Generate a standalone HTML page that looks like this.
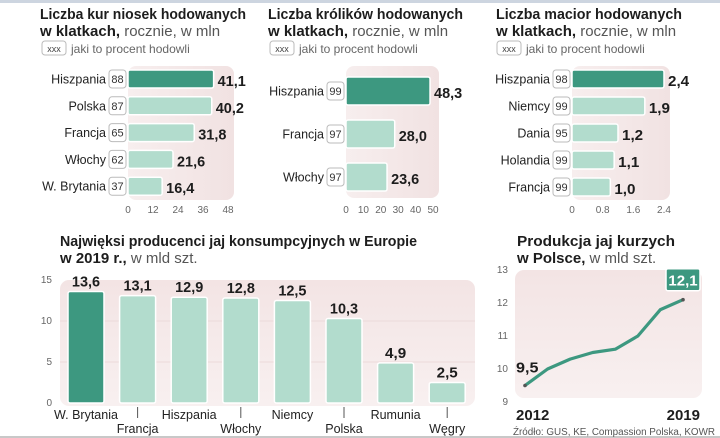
<!DOCTYPE html>
<html><head><meta charset="utf-8">
<style>
html,body{margin:0;padding:0;background:#fff;}
svg{display:block;font-family:"Liberation Sans",sans-serif;}
.t{font-weight:bold;fill:#1d1d1d;}
.tl{fill:#555;font-weight:normal;}
.tick{fill:#666;font-size:10px;}
.lbl{fill:#222;font-size:12.5px;}
.val{fill:#1d1d1d;font-weight:bold;font-size:15px;}
.pct{fill:#333;font-size:11px;}
</style></head>
<body>
<svg id="c" width="720" height="438" viewBox="0 0 720 438" xmlns="http://www.w3.org/2000/svg">
<defs>
<linearGradient id="pg" x1="0" x2="1" y1="0" y2="0">
<stop offset="0" stop-color="#f7eeee"/><stop offset="1" stop-color="#f1e2e2"/></linearGradient>
<linearGradient id="pg2" x1="0" x2="0" y1="0" y2="1">
<stop offset="0" stop-color="#f3e4e4"/><stop offset="1" stop-color="#f8f0f0"/></linearGradient>
</defs>
<rect x="0" y="0" width="720" height="3" fill="#cdd5e0"/>
<rect x="0" y="436" width="720" height="2" fill="#c8c8c8"/>
<g id="root"></g>
</svg>
<script>
// ---- Data ----
const henCats = ["Hiszpania","Polska","Francja","Włochy","W. Brytania"];
const henVals = [41.1,40.2,31.8,21.6,16.4];
const henPct = [88,87,65,62,37];
const henTicks = [0,12,24,36,48];

const rabCats = ["Hiszpania","Francja","Włochy"];
const rabVals = [48.3,28.0,23.6];
const rabPct = [99,97,97];
const rabTicks = [0,10,20,30,40,50];

const sowCats = ["Hiszpania","Niemcy","Dania","Holandia","Francja"];
const sowVals = [2.4,1.9,1.2,1.1,1.0];
const sowPct = [98,99,95,99,99];
const sowTicks = [0,0.8,1.6,2.4];

const eggCats = ["W. Brytania","Francja","Hiszpania","Włochy","Niemcy","Polska","Rumunia","Węgry"];
const eggVals = [13.6,13.1,12.9,12.8,12.5,10.3,4.9,2.5];
const eggTicks = [0,5,10,15];

const plYears = [2012,2013,2014,2015,2016,2017,2018,2019];
const plVals = [9.5,10.0,10.3,10.5,10.6,11.0,11.8,12.1];
const plTicks = [9,10,11,12,13];

const NS="http://www.w3.org/2000/svg";
const root=document.getElementById('root');
function el(tag,attrs,parent,text){
  const e=document.createElementNS(NS,tag);
  for(const k in attrs) e.setAttribute(k,attrs[k]);
  if(text!==undefined) e.textContent=text;
  (parent||root).appendChild(e);
  return e;
}
function fmt(v){return v.toFixed(1).replace('.',',');}
const DARK="#3d9880", LIGHT="#b2dccd";

function valText(x,y,txt,g,anchor,size){
  const len=txt.length*6.6*(size||15)/15;
  const a={x:x,y:y,'class':'val',textLength:len,lengthAdjust:'spacingAndGlyphs'};
  if(anchor) a['text-anchor']=anchor;
  if(size) a['font-size']=size;
  return el('text',a,g,txt);
}

function title(x,y1,l1,w1,l2b,l2n,name){
  const g=el('g',{});
  
  
  el('text',{x:x,y:y1,'class':'t','font-size':15,textLength:w1,lengthAdjust:'spacingAndGlyphs'},g,l1);
  const b=el('text',{x:x,y:y1+17,'font-size':15},g);
  el('tspan',{'class':'t'},b,l2b);
  el('tspan',{'class':'tl'},b,' '+l2n);
}
function legend(x,name){
  const g=el('g',{});
  
  
  el('rect',{x:x,y:41,width:24,height:14,rx:3,fill:'#fff',stroke:'#bbb'},g);
  el('text',{x:x+12,y:52,'text-anchor':'middle','font-size':9,fill:'#444'},g,'xxx');
  el('text',{x:x+29,y:53,'font-size':12,fill:'#666'},g,'jaki to procent hodowli');
}

function hbar(o){
  const g=el('g',{});
  
  
  const sx=v=>o.x0+(v/o.max)*(o.x1-o.x0);
  const bg=el('rect',{x:o.x0,y:o.py0,width:o.x1-o.x0+6,height:o.py1-o.py0,rx:8,fill:'url(#pg)'},g);
  
  
  o.cats.forEach((c,i)=>{
    const cy=o.y0+i*o.step;
    const r=el('rect',{x:o.x0,y:cy-o.h/2,width:sx(o.vals[i])-o.x0,height:o.h,rx:2,fill:i===0?DARK:LIGHT,stroke:'#fff','stroke-width':1.5},g);
    
    
    const pb=el('rect',{x:o.x0-19,y:cy-9,width:17,height:18,rx:3,fill:'#fff',stroke:'#bbb'},g);
    
    
    el('text',{x:o.x0-10.5,y:cy+4,'text-anchor':'middle','class':'pct'},g,String(o.pct[i]));
    const lt=el('text',{x:o.x0-22,y:cy+4.5,'text-anchor':'end','class':'lbl'},g,c);
    
    
    const vt=valText(sx(o.vals[i])+4,cy+7,fmt(o.vals[i]),g,null,16);
    
    
  });
  o.ticks.forEach(t=>{
    const tt=el('text',{x:sx(t),y:o.ty,'text-anchor':'middle','class':'tick'},g,String(t));
    
    
  });
}

title(40,19,"Liczba kur niosek hodowanych",206,"w klatkach,","rocznie, w mln","hens-title");
legend(42,"hens-legend");
hbar({name:'hens-chart',cats:henCats,vals:henVals,pct:henPct,ticks:henTicks,max:48,x0:128,x1:228,y0:79,step:26.8,h:18,py0:66,py1:200,ty:213});

title(268,19,"Liczba królików hodowanych",195,"w klatkach,","rocznie, w mln","rabbits-title");
legend(270,"rabbits-legend");
hbar({name:'rabbits-chart',cats:rabCats,vals:rabVals,pct:rabPct,ticks:rabTicks,max:50,x0:346,x1:433,y0:91,step:43,h:28,py0:66,py1:198,ty:213});

title(496,19,"Liczba macior hodowanych",186,"w klatkach,","rocznie, w mln","sows-title");
legend(497,"sows-legend");
hbar({name:'sows-chart',cats:sowCats,vals:sowVals,pct:sowPct,ticks:sowTicks,max:2.4,x0:572,x1:664,y0:79,step:27,h:18,py0:66,py1:200,ty:213});

(function(){
  const g=el('g',{});
  
  
  title(60,246,"Najwięksi producenci jaj konsumpcyjnych w Europie",357,"w 2019 r.,","w mld szt.","egg-producers-title");
  const y0=403,y1=280,max=15;
  const sy=v=>y0-(v/max)*(y0-y1);
  const bx=i=>68+i*51.6;
  const bg=el('rect',{x:60,y:280,width:415,height:126,rx:9,fill:'url(#pg2)'},g);
  
  
  eggTicks.forEach(t=>{
    if(t>0&&t<15) el('line',{x1:60,x2:475,y1:sy(t),y2:sy(t),stroke:'#ecdada','stroke-width':1},g);
    const tt=el('text',{x:52,y:sy(t)+3,'text-anchor':'end','class':'tick'},g,String(t));
    
    
  });
  eggCats.forEach((c,i)=>{
    const x=bx(i);
    const r=el('rect',{x:x,y:sy(eggVals[i]),width:36,height:y0-sy(eggVals[i]),rx:2,fill:i===0?DARK:LIGHT,stroke:'#fff','stroke-width':1.5},g);
    
    
    const vt=valText(x+18,sy(eggVals[i])-5,fmt(eggVals[i]),g,'middle',16);
    
    
    const low=i%2===1;
    if(low) el('line',{x1:x+18,x2:x+18,y1:407,y2:418,stroke:'#555','stroke-width':1},g);
    const lt=el('text',{x:x+18,y:low?433:419,'text-anchor':'middle','class':'lbl','font-size':13.5},g,c);
    
    
  });
})();

(function(){
  const g=el('g',{});
  
  
  title(517,246,"Produkcja jaj kurzych",158,"w Polsce,","w mld szt.","poland-eggs-title");
  const ya=402,yb=270;
  const sy=v=>ya-(v-9)/4*(ya-yb);
  const sx=yr=>525+(yr-2012)/7*(683-525);
  const bg=el('rect',{x:515,y:270,width:187,height:128,rx:9,fill:'url(#pg2)'},g);
  
  
  plTicks.forEach(t=>{
    const tt=el('text',{x:508,y:sy(t)+3,'text-anchor':'end','class':'tick'},g,String(t));
    
    
  });
  const pts=plYears.map((y,i)=>sx(y)+','+sy(plVals[i])).join(' ');
  const pl=el('polyline',{points:pts,fill:'none',stroke:'#3d9880','stroke-width':3.2,'stroke-linejoin':'round','stroke-linecap':'round'},g);
  
  
  [0,plYears.length-1].forEach(i=>{
    const d=el('circle',{cx:sx(plYears[i]),cy:sy(plVals[i]),r:1.8,fill:'#555'},g);
    
    
  });
  const v0=valText(516,sy(plVals[0])-13,fmt(plVals[0]),g,null,17);
  
  
  const n=plYears.length-1;
  const bx=el('rect',{x:666,y:sy(plVals[n])-31,width:34,height:22,rx:2,fill:DARK,stroke:'#fff','stroke-width':1.5},g);
  
  
  el('text',{x:683,y:sy(plVals[n])-14,'text-anchor':'middle','font-weight':'bold','font-size':15,fill:'#fff'},g,fmt(plVals[n]));
  const a=el('text',{x:516,y:420,'class':'val','font-size':14},g,String(plYears[0]));
  
  
  const b=el('text',{x:700,y:420,'text-anchor':'end','class':'val','font-size':14},g,String(plYears[n]));
  
  
  const s=el('text',{x:715,y:435,'text-anchor':'end','font-size':10,fill:'#555',textLength:202,lengthAdjust:'spacingAndGlyphs'},g,'Źródło: GUS, KE, Compassion Polska, KOWR');
  
  
})();
</script>
</body></html>
